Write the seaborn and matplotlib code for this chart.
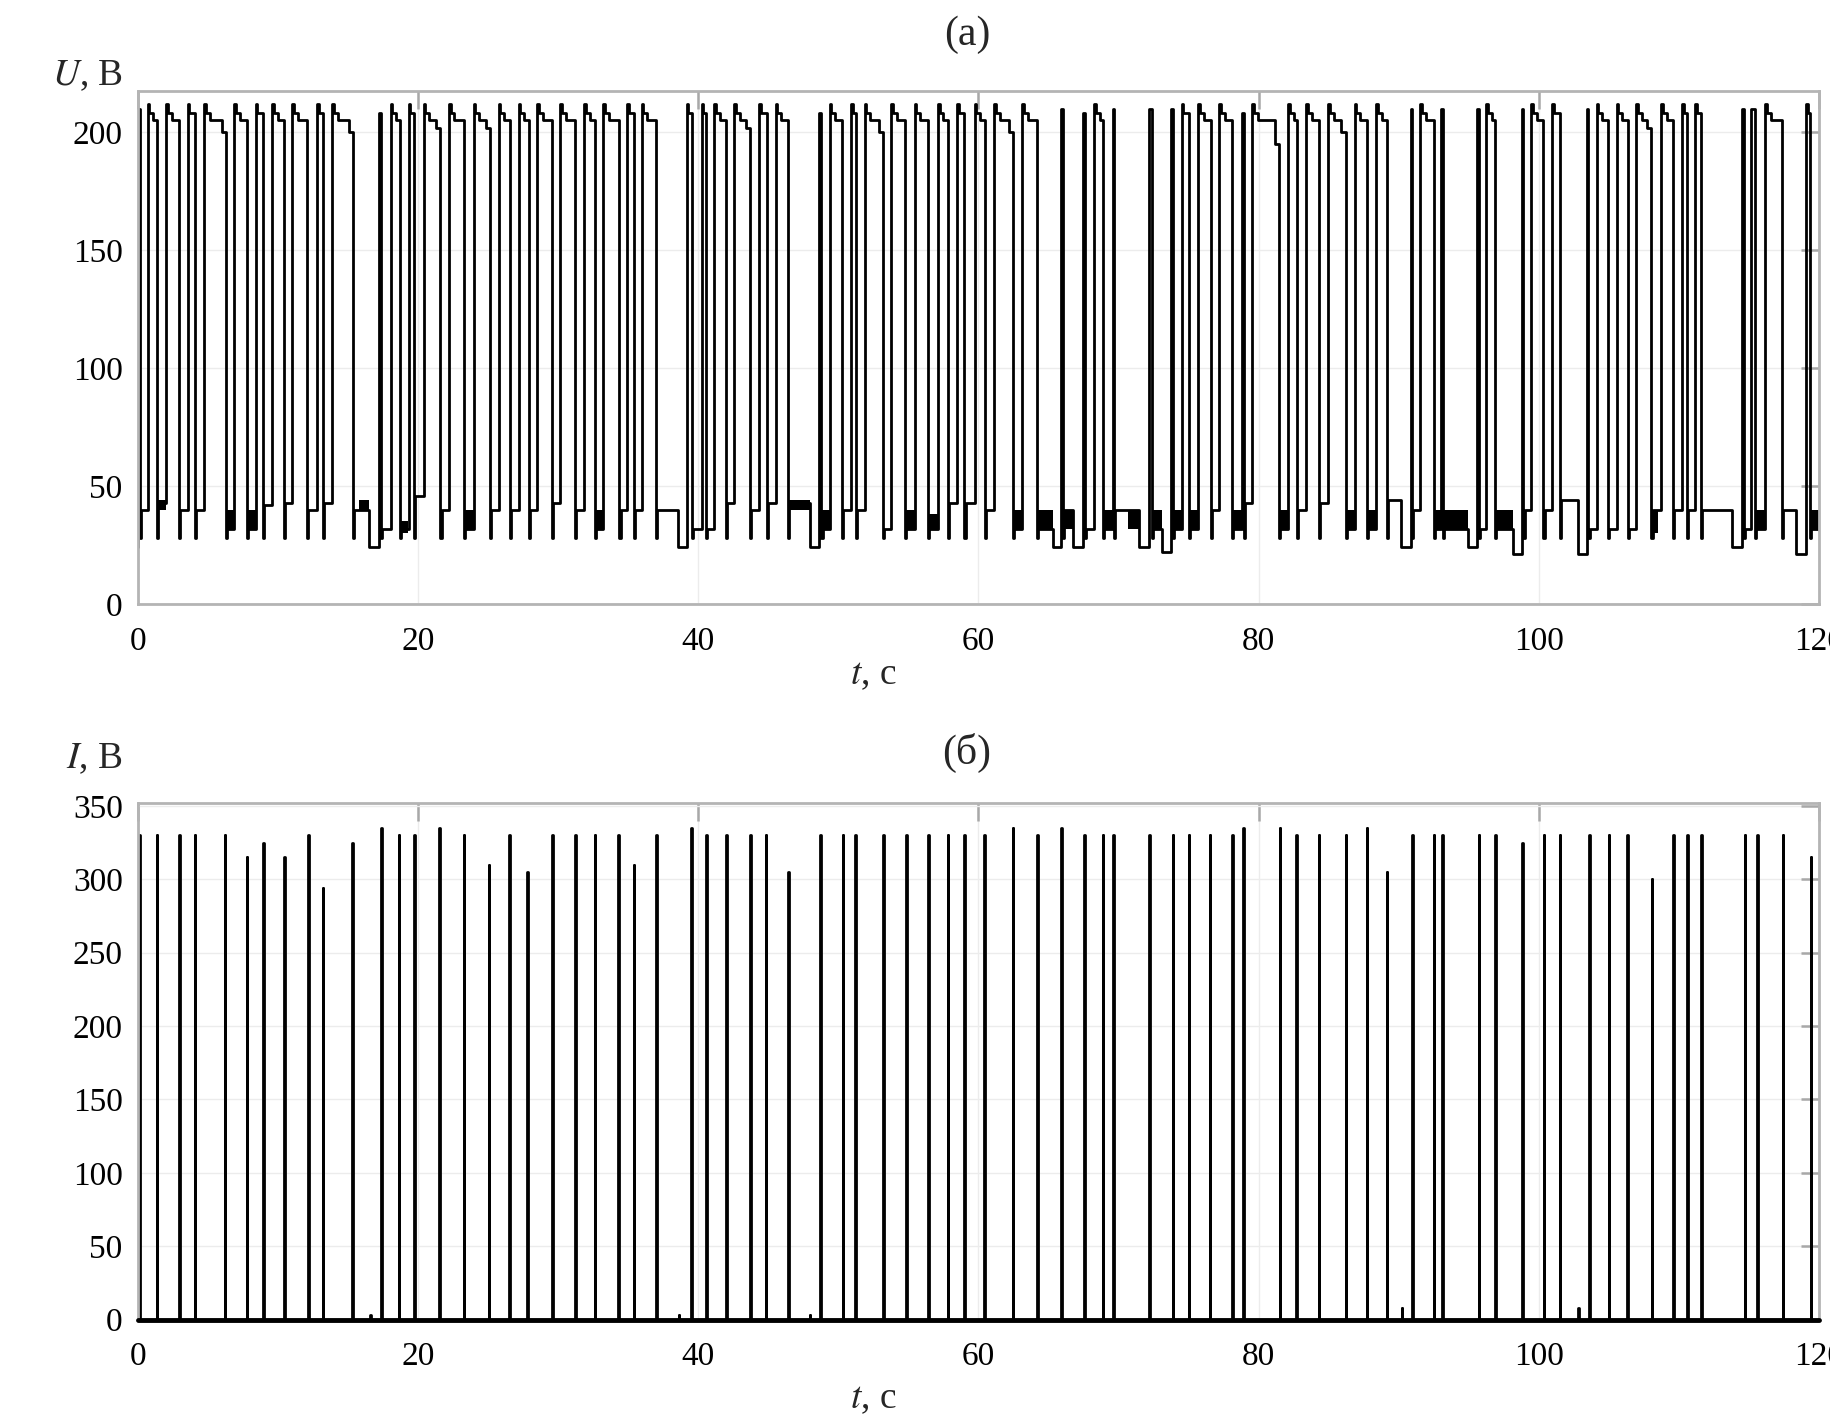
import matplotlib
matplotlib.use("Agg")
import matplotlib.pyplot as plt
import pandas as pd
import seaborn as sns

# --- (а) напряжение: импульсы (включение, отключение, уровень в конце импульса, уровень паузы после)
U_RISE = [0.0, 0.69, 2.0, 3.54, 4.73, 6.86, 8.41, 9.6, 11.02, 12.8,
          13.87, 17.2, 18.03, 19.33, 20.4, 22.19, 23.97, 25.75, 27.17, 28.48,
          30.14, 31.85, 33.23, 34.9, 35.96, 39.17, 40.24, 41.12, 42.54, 44.35,
          45.53, 48.62, 49.38, 50.93, 51.88, 53.78, 55.44, 57.1, 58.48, 59.72,
          61.14, 63.11, 65.89, 67.43, 68.27, 69.57, 72.19, 73.73, 74.5, 75.7,
          77.17, 78.83, 79.55, 82.11, 83.4, 84.96, 86.86, 88.4, 90.85, 91.54,
          93.04, 95.58, 96.23, 98.78, 99.45, 100.93, 103.42, 104.13, 105.56, 106.97,
          108.72, 110.24, 111.14, 114.47, 115.18, 116.14, 119.1]
U_FALL = [0.15, 1.35, 2.95, 4.06, 6.27, 7.77, 8.95, 10.43, 12.09, 13.2,
          15.34, 17.32, 18.69, 19.69, 21.59, 23.25, 25.11, 26.53, 27.89, 29.55,
          31.21, 32.59, 34.37, 35.42, 36.98, 39.52, 40.55, 41.97, 43.68, 44.87,
          46.41, 48.79, 50.28, 51.24, 53.18, 54.73, 56.39, 57.81, 59.0, 60.43,
          62.45, 64.2, 66.0, 67.6, 68.9, 69.69, 72.38, 73.85, 75.03, 76.58,
          78.07, 78.95, 81.45, 82.75, 84.3, 86.2, 87.74, 89.17, 90.95, 92.49,
          93.16, 95.7, 96.89, 98.9, 100.33, 101.52, 103.54, 104.92, 106.33, 108.04,
          109.6, 110.55, 111.57, 114.66, 115.42, 117.37, 119.38]
U_TOP = [210, 205, 205, 205, 200, 205, 205, 205, 205, 205,
         200, 208, 205, 208, 202, 205, 202, 205, 205, 205,
         205, 205, 205, 208, 205, 208, 208, 205, 202, 205,
         205, 208, 205, 208, 200, 205, 205, 205, 205, 205,
         200, 205, 210, 208, 205, 210, 210, 210, 205, 205,
         205, 208, 195, 205, 205, 200, 205, 205, 210, 205,
         210, 210, 205, 210, 205, 208, 210, 205, 205, 202,
         205, 208, 208, 210, 210, 205, 210]
U_LOW = [40, 43, 40, 40, 32, 32, 42, 43, 40, 43,
         40, 32, 32, 46, 40, 32, 40, 40, 40, 43,
         40, 32, 40, 40, 40, 32, 32, 43, 40, 43,
         43, 32, 40, 40, 32, 32, 32, 43, 43, 40,
         32, 32, 40, 32, 32, 40, 32, 32, 32, 40,
         32, 43, 32, 40, 43, 32, 32, 44, 40, 32,
         32, 32, 32, 40, 40, 44, 32, 32, 32, 40,
         40, 40, 40, 32, 32, 40, 32]
U_START = 24

# провалы напряжения перед очередным включением
DIP_START = [16.48, 38.58, 47.96, 65.3, 66.77, 71.47, 73.13, 90.15, 94.94,
             98.19, 102.78, 113.76, 118.39]
DIP_LEVEL = [24, 24, 24, 24, 24, 24, 22, 24, 24, 21, 21, 24, 21]

# участки дребезга (сплошная заливка)
NOISE_START = [1.4, 6.3, 7.8, 15.8, 18.75, 23.3, 32.62, 46.45, 48.82, 54.76,
               56.42, 62.48, 64.23, 66.05, 68.93, 70.64, 72.42, 73.88, 75.06, 78.1,
               81.5, 86.23, 87.77, 92.52, 93.2, 96.92, 108.07, 115.45, 119.4]
NOISE_END = [2.0, 6.86, 8.41, 16.48, 19.3, 23.97, 33.23, 47.96, 49.38, 55.44,
             57.1, 63.11, 65.3, 66.77, 69.57, 71.47, 73.13, 74.5, 75.7, 78.83,
             82.11, 86.86, 88.4, 93.04, 94.94, 98.19, 108.5, 116.14, 120.0]
NOISE_LO = [40, 32, 32, 40, 30, 32, 32, 40, 32, 32,
            32, 32, 32, 32, 32, 32, 32, 32, 32, 32,
            32, 32, 32, 32, 32, 32, 30, 32, 32]
NOISE_HI = [44, 40, 40, 44, 35, 40, 40, 44, 40, 40,
            38, 40, 40, 40, 40, 40, 40, 40, 40, 40,
            40, 40, 40, 40, 40, 40, 40, 40, 40]

# --- (б) ток: выбросы в моменты отключения
I_TIME = [0.1, 1.35, 2.95, 4.06, 6.2, 7.77, 8.95, 10.43, 12.14, 13.2,
          15.3, 17.36, 18.6, 19.7, 21.5, 23.26, 25.04, 26.5, 27.8, 29.55,
          31.2, 32.6, 34.3, 35.4, 37.0, 39.5, 40.55, 42.0, 43.7, 44.8,
          46.4, 48.7, 50.3, 51.2, 53.2, 54.85, 56.4, 57.8, 59.0, 60.4,
          62.45, 64.2, 65.9, 67.55, 68.86, 69.6, 72.2, 73.85, 75.0, 76.5,
          78.1, 78.9, 81.5, 82.7, 84.3, 86.2, 87.7, 89.15, 90.95, 92.5,
          93.1, 95.7, 96.9, 98.8, 100.35, 101.5, 103.6, 105.0, 106.3, 108.05,
          109.6, 110.6, 111.6, 114.7, 115.6, 117.4, 119.4]
I_PEAK = [330, 330, 330, 330, 330, 315, 325, 315, 330, 294,
          325, 335, 330, 330, 335, 330, 310, 330, 305, 330,
          330, 330, 330, 310, 330, 335, 330, 330, 330, 330,
          305, 330, 330, 330, 330, 330, 330, 330, 330, 330,
          335, 330, 335, 330, 330, 330, 330, 330, 330, 330,
          330, 335, 335, 330, 330, 330, 335, 305, 330, 330,
          330, 330, 330, 325, 330, 330, 330, 330, 330, 300,
          330, 330, 330, 330, 330, 330, 315]
I_SMALL_TIME = [16.56, 38.6, 47.96, 90.2, 102.8]
I_SMALL_PEAK = [3, 3, 3, 8, 8]

T_MAX = 120

# ступенчатая кривая напряжения из таблицы импульсов
t, u = [0.0], [U_START]
n = len(U_RISE)
for k in range(n):
    r, f, top, low = U_RISE[k], U_FALL[k], U_TOP[k], U_LOW[k]
    t.append(r)
    u.append(u[-1])
    if f - r < 0.25:
        t += [r, f]
        u += [top, top]
    else:
        t += [r, r + 0.12, r + 0.12]
        u += [212, 212, 208]
        if f - r > 0.6:
            t += [r + 0.4, r + 0.4]
            u += [208, 205]
        if top < 205 and f - r > 1.0:
            t += [f - 0.3, f - 0.3]
            u += [205, top]
        t.append(f)
        u.append(u[-1])
    t += [f, f + 0.08, f + 0.08]
    u += [28, 28, low]
    nxt = U_RISE[k + 1] if k + 1 < n else T_MAX
    for ds, dl in zip(DIP_START, DIP_LEVEL):
        if f < ds < nxt:
            t += [ds, ds]
            u += [low, dl]
            low = dl
    t.append(nxt)
    u.append(low)
volt = pd.DataFrame({"t": t, "U": u})

# выбросы тока
ti, ii = [0.0], [0.0]
events = sorted(zip(I_TIME + I_SMALL_TIME, I_PEAK + I_SMALL_PEAK))
for ts, h in events:
    ti += [ts, ts, ts + 0.04, ts + 0.04]
    ii += [0, h, h, 0]
ti.append(T_MAX)
ii.append(0)
cur = pd.DataFrame({"t": ti, "I": ii})

sns.set_theme(style="white")
plt.rcParams["font.family"] = ["Liberation Serif", "DejaVu Serif"]
plt.rcParams["mathtext.fontset"] = "stix"

W, H = 1831, 1420
fig = plt.figure(figsize=(W / 100, H / 100), dpi=100)
ax1 = fig.add_axes([138 / W, 1 - 604 / H, (1819 - 138) / W, (604 - 91) / H])
ax2 = fig.add_axes([138 / W, 1 - 1319.5 / H, (1819 - 138) / W, (1319.5 - 803) / H])

sns.lineplot(data=volt, x="t", y="U", ax=ax1, sort=False, estimator=None,
             color="black", lw=2.0)
for s, e, lo, hi in zip(NOISE_START, NOISE_END, NOISE_LO, NOISE_HI):
    ax1.fill_between([s, e], [lo, lo], [hi, hi], color="black", lw=0)

sns.lineplot(data=cur, x="t", y="I", ax=ax2, sort=False, estimator=None,
             color="black", lw=2.0)
ax2.lines[0].set_clip_on(False)
ax2.axhline(0, color="black", lw=3.5, clip_on=False, zorder=5)

for ax, ymax, yt in [(ax1, 217.5, range(0, 201, 50)), (ax2, 352, range(0, 351, 50))]:
    ax.set_xlim(0, T_MAX)
    ax.set_ylim(0, ymax)
    ax.set_xticks(range(0, 121, 20))
    ax.set_yticks(list(yt))
    ax.set_xlabel("")
    ax.set_ylabel("")
    ax.grid(True, color="#ececec", lw=1)
    for sp in ax.spines.values():
        sp.set_color("#b4b4b4")
        sp.set_linewidth(2)
    ax.tick_params(axis="both", direction="in", length=13, width=1.8,
                   color="#a8a8a8", labelsize=24, top=True, right=True,
                   labelcolor="black")
    ax.tick_params(axis="x", pad=16)
    ax.tick_params(axis="y", pad=11)

fig.text(967 / W, 1 - 35 / H, "(а)", ha="center", va="center", fontsize=30)
fig.text(123 / W, 1 - 76 / H, r"$U$, В", ha="right", va="center", fontsize=27)
fig.text(873 / W, 1 - 675 / H, r"$t$, с", ha="center", va="center", fontsize=27)
fig.text(967 / W, 1 - 753 / H, "(б)", ha="center", va="center", fontsize=30)
fig.text(123 / W, 1 - 759 / H, r"$I$, В", ha="right", va="center", fontsize=27)
fig.text(873 / W, 1 - 1399 / H, r"$t$, с", ha="center", va="center", fontsize=27)

fig.savefig("out.png", dpi=100, facecolor="white")
